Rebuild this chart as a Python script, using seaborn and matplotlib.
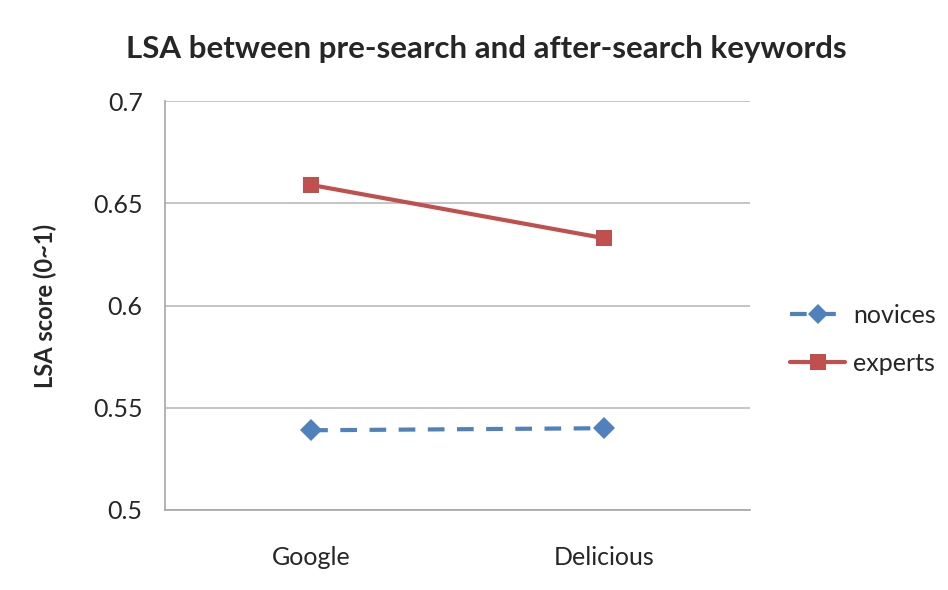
import pandas as pd
import seaborn as sns
import matplotlib.pyplot as plt
from matplotlib.lines import Line2D

# Data
engines = ["Google", "Delicious"]
novices = [0.539, 0.540]
experts = [0.659, 0.633]
y_ticks = [0.5, 0.55, 0.6, 0.65, 0.7]
y_tick_labels = ["0.5", "0.55", "0.6", "0.65", "0.7"]

df = pd.DataFrame({
    "engine": engines * 2,
    "score": novices + experts,
    "group": ["novices"] * 2 + ["experts"] * 2,
})

sns.set_style("white")
plt.rcParams['font.family'] = ['Lato', 'DejaVu Sans']

blue = "#4F81BD"
red = "#C0504D"
axis_grey = "#A6A6A6"

fig = plt.figure(figsize=(9.48, 5.90), dpi=100)
ax = fig.add_axes([0.174, 0.1356, 0.617, 0.693])

sns.lineplot(data=df, x="engine", y="score", hue="group", style="group",
             palette={"novices": blue, "experts": red},
             dashes={"novices": (4, 3), "experts": ""},
             markers={"novices": "D", "experts": "s"},
             markersize=11, linewidth=3, markeredgewidth=0,
             legend=False, ax=ax)

ax.set_xlim(-0.5, 1.5)
ax.set_ylim(0.5, 0.7)
ax.set_yticks(y_ticks)
ax.set_yticklabels(y_tick_labels)
ax.yaxis.grid(True, color="#BFBFBF", linewidth=1.3)
ax.set_axisbelow(True)

# Excel-style category boundary tick marks
ax.set_xticks([0, 1])
ax.set_xticks([-0.5, 0.5, 1.5], minor=True)
ax.tick_params(axis="x", which="major", length=0, labelsize=18, pad=26)
ax.tick_params(axis="x", which="minor", length=7, width=1.2, color=axis_grey, direction="out")
ax.tick_params(axis="y", length=7, width=1.2, color=axis_grey, direction="out",
               labelsize=18, pad=9)

for side in ["top", "right"]:
    ax.spines[side].set_visible(False)
for side in ["left", "bottom"]:
    ax.spines[side].set_color(axis_grey)
    ax.spines[side].set_linewidth(1.2)

ax.set_xlabel("")
ax.set_ylabel("LSA score (0~1)", fontsize=17, fontweight="bold")
ax.yaxis.set_label_coords(-0.185, 0.5)
fig.suptitle("LSA between pre-search and after-search keywords",
             fontsize=22.5, fontweight="bold", x=0.513, y=0.94)

handles = [
    Line2D([], [], color=blue, linestyle=(0, (4, 3)), linewidth=3, marker="D",
           markersize=10, markeredgewidth=0, label="novices"),
    Line2D([], [], color=red, linewidth=3, marker="s",
           markersize=11, markeredgewidth=0, label="experts"),
]
fig.legend(handles=handles, loc="center left", bbox_to_anchor=(0.81, 0.425),
           frameon=False, fontsize=18, handlelength=2.2, handletextpad=0.3,
           labelspacing=1.0)

fig.savefig("out.png", dpi=100)
